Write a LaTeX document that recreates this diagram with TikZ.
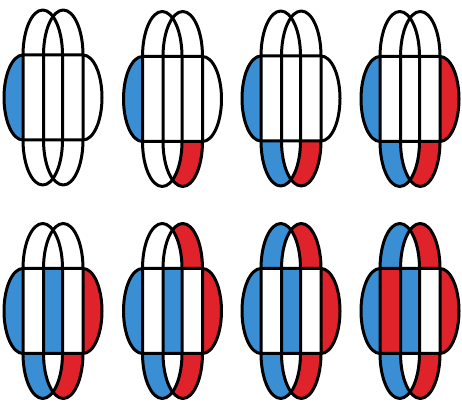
\documentclass[tikz,border=0pt]{standalone}
\definecolor{myblue}{RGB}{58,142,212}
\definecolor{myred}{RGB}{224,34,42}
\tikzset{
  outl/.style={draw=black, line width=3pt, line join=round},
}
\newcommand{\myfig}[6]{%
  \begin{scope}[shift={(#1,#2)}]
    \myfills{#3}{#4}{#5}#6
    \draw[outl] (-30,42.5) -- (30,42.5) arc[start angle=90, end angle=-90, x radius=19, y radius=42.5]
       -- (-30,-42.5) arc[start angle=270, end angle=90, x radius=19, y radius=42.5] -- cycle;
    \draw[outl] (-30,-42.5) -- (-30,42.5) arc[start angle=180, end angle=0, x radius=19.75, y radius=45]
       -- (9.5,-42.5) arc[start angle=0, end angle=-180, x radius=19.75, y radius=45] -- cycle;
    \draw[outl] (-9.5,-42.5) -- (-9.5,42.5) arc[start angle=180, end angle=0, x radius=19.75, y radius=45]
       -- (30,-42.5) arc[start angle=0, end angle=-180, x radius=19.75, y radius=45] -- cycle;
  \end{scope}}
\newcommand{\myfills}[5]{\mybandfills#1\relax
  \fill[#2] (-30,42.5) arc[start angle=180, end angle=0, x radius=19.75, y radius=45] -- cycle;
  \fill[#3] (-9.5,42.5) arc[start angle=180, end angle=0, x radius=19.75, y radius=45] -- cycle;
  \begin{scope}
    \clip (-30,42.5) arc[start angle=180, end angle=0, x radius=19.75, y radius=45] -- cycle;
    \fill[white] (-9.5,42.5) arc[start angle=180, end angle=0, x radius=19.75, y radius=45] -- cycle;
  \end{scope}
  \fill[#4] (-30,-42.5) arc[start angle=180, end angle=360, x radius=19.75, y radius=45] -- cycle;
  \fill[#5] (-9.5,-42.5) arc[start angle=180, end angle=360, x radius=19.75, y radius=45] -- cycle;
  \begin{scope}
    \clip (-30,-42.5) arc[start angle=180, end angle=360, x radius=19.75, y radius=45] -- cycle;
    \fill[white] (-9.5,-42.5) arc[start angle=180, end angle=360, x radius=19.75, y radius=45] -- cycle;
  \end{scope}}
\def\mybandfills#1#2#3#4#5\relax{%
  \fill[#1] (-30,42.5) arc[start angle=90, end angle=270, x radius=19, y radius=42.5] -- cycle;
  \fill[#2] (-30,-42.5) rectangle (-9.5,42.5);
  \fill[#3] (-9.5,-42.5) rectangle (9.5,42.5);
  \fill[#4] (9.5,-42.5) rectangle (30,42.5);
  \fill[#5] (30,42.5) arc[start angle=90, end angle=-90, x radius=19, y radius=42.5] -- cycle;}
\begin{document}
\begin{tikzpicture}[x=1pt,y=1pt]
  \useasboundingbox (0,0) rectangle (462,403);
  \fill[white] (0,0) rectangle (462,403);
  % row 1
  \myfig{53}{305.5}{{myblue}{white}{white}{white}{white}}{white}{white}{{white}{white}}
  \myfig{172.5}{304}{{myblue}{white}{white}{white}{white}}{white}{white}{{white}{myred}}
  \myfig{291}{304.5}{{myblue}{white}{white}{white}{white}}{white}{white}{{myblue}{myred}}
  \myfig{410}{304}{{myblue}{white}{white}{white}{myred}}{white}{white}{{myblue}{myred}}
  % row 2
  \myfig{53}{92}{{myblue}{white}{myblue}{white}{myred}}{white}{white}{{myblue}{myred}}
  \myfig{172.5}{92}{{myblue}{white}{myblue}{white}{myred}}{white}{myred}{{myblue}{myred}}
  \myfig{291}{92}{{myblue}{white}{myblue}{white}{myred}}{myblue}{myred}{{myblue}{myred}}
  \myfig{410}{92}{{myblue}{myred}{myblue}{white}{myred}}{myblue}{myred}{{myblue}{myred}}
\end{tikzpicture}
\end{document}
